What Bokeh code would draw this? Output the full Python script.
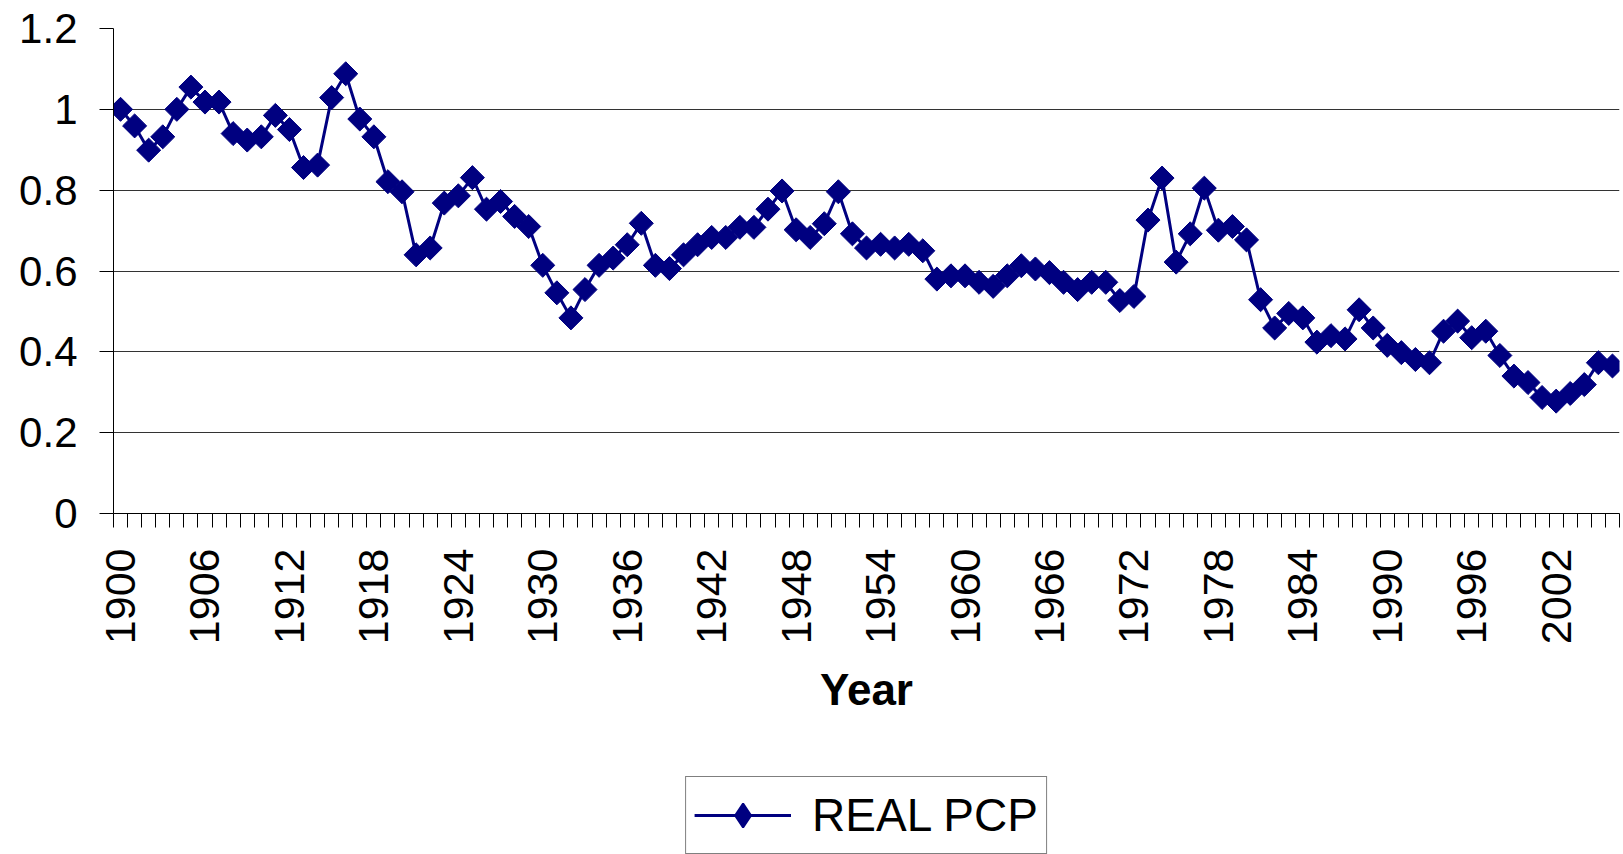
import math
from bokeh.plotting import figure
from bokeh.layouts import column
from bokeh.models import (Range1d, FixedTicker, CustomJSTickFormatter, Legend, LegendItem)
from bokeh.embed import file_html
from bokeh.resources import INLINE

years = list(range(1900, 2007))
real_pcp = [
    1.000, 0.959, 0.899, 0.932, 1.000, 1.055, 1.018, 1.018, 0.940, 0.924,
    0.932, 0.985, 0.950, 0.856, 0.862, 1.029, 1.088, 0.976, 0.932, 0.821,
    0.796, 0.640, 0.657, 0.768, 0.786, 0.831, 0.753, 0.772, 0.735, 0.710,
    0.614, 0.546, 0.484, 0.554, 0.614, 0.632, 0.665, 0.718, 0.614, 0.606,
    0.640, 0.665, 0.683, 0.683, 0.708, 0.708, 0.753, 0.798, 0.702, 0.683,
    0.717, 0.796, 0.692, 0.657, 0.666, 0.657, 0.666, 0.650, 0.580, 0.588,
    0.588, 0.572, 0.562, 0.588, 0.613, 0.605, 0.596, 0.572, 0.554, 0.572,
    0.572, 0.527, 0.537, 0.726, 0.830, 0.622, 0.692, 0.805, 0.701, 0.710,
    0.677, 0.529, 0.459, 0.495, 0.484, 0.424, 0.440, 0.432, 0.504, 0.459,
    0.416, 0.398, 0.381, 0.373, 0.451, 0.476, 0.435, 0.451, 0.391, 0.340,
    0.324, 0.287, 0.278, 0.297, 0.319, 0.373, 0.365,
]
x_tick_labels = [1900, 1906, 1912, 1918, 1924, 1930, 1936, 1942, 1948, 1954,
                 1960, 1966, 1972, 1978, 1984, 1990, 1996, 2002]
y_ticks = [0, 0.2, 0.4, 0.6, 0.8, 1.0, 1.2]
y_grid = [0.2, 0.4, 0.6, 0.8, 1.0]
series_name = "REAL PCP"
x_title = "Year"

FONT = "Liberation Sans"
NAVY = "#000080"

p = figure(width=1623, height=776, output_backend="svg", toolbar_location=None,
           x_range=Range1d(years[0] - 0.5, years[-1] + 0.5),
           y_range=Range1d(0, 1.2),
           min_border_left=113, min_border_right=4, min_border_top=28,
           min_border_bottom=263)
p.outline_line_color = None
p.background_fill_color = "white"
p.border_fill_color = "white"

# x axis
xt = FixedTicker(ticks=x_tick_labels, minor_ticks=[y - 0.5 for y in years] + [years[-1] + 0.5])
p.xaxis.ticker = xt
p.xaxis.major_tick_out = 0
p.xaxis.major_tick_in = 0
p.xaxis.minor_tick_out = 14
p.xaxis.minor_tick_in = 0
p.xaxis.minor_tick_line_color = "black"
p.xaxis.axis_line_color = "black"
p.xaxis.major_label_orientation = math.pi / 2
p.xaxis.major_label_standoff = 21
p.xaxis.major_label_text_font = FONT
p.xaxis.major_label_text_font_size = "43px"
p.xaxis.major_label_text_color = "black"
p.xaxis.axis_label = x_title
p.xaxis.axis_label_text_font = FONT
p.xaxis.axis_label_text_font_style = "bold"
p.xaxis.axis_label_text_font_size = "44px"
p.xaxis.axis_label_text_color = "black"
p.xaxis.axis_label_standoff = 18

# y axis
p.yaxis.ticker = FixedTicker(ticks=y_ticks, minor_ticks=[])
p.yaxis.formatter = CustomJSTickFormatter(code="return (Math.round(tick*10)/10).toString();")
p.yaxis.major_tick_out = 14
p.yaxis.major_tick_in = 0
p.yaxis.minor_tick_line_color = None
p.yaxis.axis_line_color = "black"
p.yaxis.major_tick_line_color = "black"
p.yaxis.major_label_standoff = 22
p.yaxis.major_label_text_font = FONT
p.yaxis.major_label_text_font_size = "42px"
p.yaxis.major_label_text_color = "black"

p.xgrid.grid_line_color = None
p.ygrid.ticker = FixedTicker(ticks=y_grid)
p.ygrid.grid_line_color = "#333333"
p.ygrid.grid_line_width = 1

p.line(years, real_pcp, line_color=NAVY, line_width=3)
p.scatter(years, real_pcp, marker="square", angle=math.pi / 4, size=17,
          fill_color=NAVY, line_color=NAVY, line_width=1)

# legend strip below the chart (same line + marker styles; its glyphs lie outside its view)
p2 = figure(width=1623, height=78, output_backend="svg", toolbar_location=None,
            x_range=Range1d(0, 1), y_range=Range1d(0, 1),
            x_axis_location=None, y_axis_location=None,
            min_border_left=113, min_border_right=4, min_border_top=0,
            min_border_bottom=0)
p2.outline_line_color = None
p2.grid.visible = False
p2.background_fill_color = "white"
p2.border_fill_color = "white"
l2 = p2.line(x=years[:2], y=real_pcp[:2], line_color=NAVY, line_width=3)
s2 = p2.scatter(x=years[:1], y=real_pcp[:1], marker="diamond", size=24,
                fill_color=NAVY, line_color=NAVY, line_width=2)

legend = Legend(items=[LegendItem(label=series_name, renderers=[l2, s2])],
                location="top_center", margin=0, padding=8, spacing=0,
                label_standoff=21, glyph_width=97, glyph_height=60,
                label_text_font=FONT, label_text_font_size="46px",
                label_text_color="black", border_line_color="black",
                border_line_width=1, background_fill_color="white",
                background_fill_alpha=1.0)
p2.add_layout(legend, "center")

layout = column(p, p2, spacing=0)
open("out.html", "w").write(file_html(layout, INLINE))
